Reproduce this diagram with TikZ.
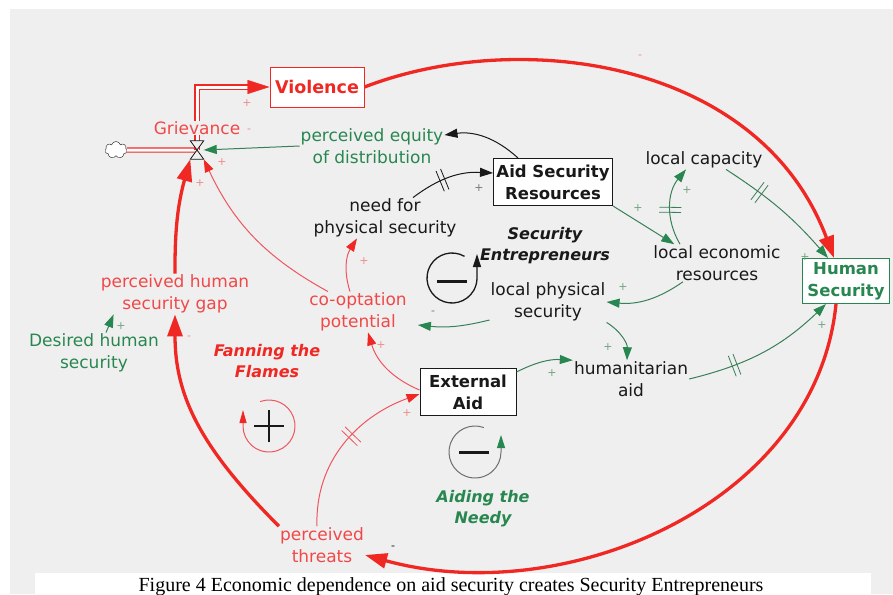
\documentclass[tikz,border=0pt]{standalone}
\usepackage{fontspec}
\setmainfont{DejaVu Sans}
\newfontfamily\capfont{Liberation Serif}
\usetikzlibrary{arrows.meta,shapes.symbols,decorations.markings}

\definecolor{bggray}{RGB}{240,239,239}
\definecolor{vred}{RGB}{240,40,35}
\definecolor{tred}{RGB}{240,72,72}
\definecolor{lred}{RGB}{238,85,95}
\definecolor{vgreen}{RGB}{40,135,80}
\definecolor{lgreen}{RGB}{55,128,88}
\definecolor{tblack}{RGB}{25,25,25}
\definecolor{loopgray}{RGB}{110,110,110}
\definecolor{signred}{RGB}{240,140,140}
\definecolor{signgreen}{RGB}{110,165,130}
\definecolor{signgray}{RGB}{120,120,120}

\begin{document}
\begin{tikzpicture}[x=1pt,y=1pt,
    lbl/.style={align=center,text=tblack,font=\fontsize{17}{22}\selectfont,inner sep=1pt},
    box/.style={draw=tblack,line width=1pt,fill=white,text=tblack,align=center,inner sep=2pt,font=\fontsize{16.5}{22}\selectfont\bfseries},
    loopname/.style={align=center,text=tblack,font=\fontsize{16}{21}\selectfont\bfseries\itshape},
    sign/.style={font=\fontsize{11}{11}\selectfont,inner sep=0pt},
    bigarrow/.style={color=vred,line width=3.3pt,-{Triangle[length=22pt,width=15pt]}},
    redarrow/.style={color=lred,line width=1pt,-{Triangle[length=13pt,width=9pt,color=vred]}},
    greenarrow/.style={color=lgreen,line width=1pt,-{Triangle[length=13pt,width=9pt,color=vgreen]}},
    blackarrow/.style={color=tblack,line width=1pt,-{Triangle[length=13pt,width=9pt]}},
    delaymark/.style={postaction={decorate,decoration={markings,mark=at position #1 with {\draw[-,line width=0.8pt] (-2.5pt,-11pt) -- (-2.5pt,11pt) (2.5pt,-11pt) -- (2.5pt,11pt);}}}},
    pipe/.style={color=vred,double=white,double distance=3pt,line width=1.1pt}]
    \useasboundingbox (0,0) rectangle (893,-594);
    \fill[white] (0,0) rectangle (893,-594);
    \fill[bggray] (10,-9) rectangle (893,-594);
    \fill[white] (35,-573) rectangle (871,-594);

    \node[box,draw=vred,text=vred,font=\fontsize{17.5}{22}\selectfont\bfseries,minimum width=94pt,minimum height=40pt] (viol) at (317,-87) {Violence};
    \node[draw=tblack,cloud,cloud puffs=7,minimum width=22pt,minimum height=17pt,fill=white,inner sep=0pt] (src) at (116,-150) {};
    \node[minimum width=13pt,minimum height=18pt,inner sep=0pt] (valve) at (197,-150) {};

    \draw[pipe] (src.east) -- (valve.center);
    \draw[pipe,shorten >=20pt] (valve.center) |- (viol.west);
    \draw[vred,-{Triangle[length=22pt,width=14pt]}] ([xshift=-22pt]viol.west) -- (viol.west);
    \filldraw[fill=bggray,draw=tblack,line width=0.8pt] (valve.north west) -- (valve.north east) -- (valve.south west) -- (valve.south east) -- cycle;

    \node[lbl,text=tred,fill=bggray,inner sep=0pt] (griev) at (197,-128) {Grievance};
    \node[lbl,text=vgreen] (equity) at (372,-146) {perceived equity\\of distribution};
    \node[box,minimum width=119pt,minimum height=47pt] (asr) at (553,-182) {Aid Security\\Resources};
    \node[lbl] (need) at (385,-218) {need for\\physical security};
    \node[loopname] (secent) at (545,-246) {Security\\Entrepreneurs};
    \node[lbl] (cap) at (704,-160) {local capacity};
    \node[lbl] (ler) at (717,-263) {local economic\\resources};
    \node[box,draw=vgreen,text=vgreen,minimum width=87pt,minimum height=45pt] (hs) at (846,-281) {Human\\Security};
    \node[lbl] (lps) at (548,-302) {local physical\\security};
    \node[lbl,text=tred] (coopt) at (358,-312) {co-optation\\potential};
    \node[lbl,text=tred] (gap) at (175,-294) {perceived human\\security gap};
    \node[lbl,text=vgreen] (desired) at (94,-353) {Desired human\\security};
    \node[loopname,text=vred] (fan) at (267,-361) {Fanning the\\Flames};
    \node[box,minimum width=96pt,minimum height=47pt] (ext) at (468,-392) {External\\Aid};
    \node[lbl] (hum) at (631,-379) {humanitarian\\aid};
    \node[loopname,text=vgreen] (aiding) at (483,-509) {Aiding the\\Needy};
    \node[lbl,text=tred] (threats) at (322,-545) {perceived\\threats};
    \node[font=\capfont\fontsize{20}{21}\selectfont,anchor=base,inner sep=0pt] (caption) at (451,-591) {Figure 4 Economic dependence on aid security creates Security Entrepreneurs};

    \draw[bigarrow] (viol.east) .. controls +(156,60) and +(-74,198) .. ([xshift=-12pt]hs.north);
    \draw[bigarrow] ([xshift=-10pt]hs.south) .. controls +(-20,-200) and +(200,-55) .. ([yshift=-10pt]threats.east);
    \draw[bigarrow] (threats.north west) .. controls +(-80,80) and +(0,-80) .. (gap.south);
    \draw[bigarrow] (gap.north) to[bend left=8] (valve.south west);

    \draw[redarrow] ([xshift=-30pt]coopt.north) to[bend left=18] (valve.south east);
    \draw[redarrow] ([xshift=-8pt]coopt.north) to[bend left=25] ([xshift=-28pt]need.south);
    \draw[redarrow] ([yshift=2pt]ext.west) to[bend left=25] ([xshift=10pt]coopt.south);
    \draw[redarrow,delaymark=0.55] ([xshift=-5pt]threats.north) to[out=92,in=200] ([yshift=-2pt]ext.west);

    \draw[greenarrow] (equity.west) -- (valve.east);
    \draw[blackarrow] ([xshift=-35pt]asr.north) to[bend right=25] ([yshift=11pt]equity.east);
    \draw[blackarrow,delaymark=0.4] ([xshift=28pt]need.north) to[bend left=20] ([yshift=9pt]asr.west);
    \draw[greenarrow] (asr.south east) -- ([xshift=22pt]ler.north west);
    \draw[greenarrow,delaymark=0.45] ([xshift=-37pt]ler.north) to[bend left=35] ([xshift=-18pt]cap.south);
    \draw[greenarrow,delaymark=0.3] ([xshift=22pt]cap.south) to[bend left=8] ([xshift=-18pt]hs.north);
    \draw[greenarrow] ([xshift=-34pt]ler.south) to[bend left=20] (lps.east);
    \draw[greenarrow] ([yshift=-18pt]lps.west) to[bend left=10] ([xshift=10pt,yshift=-13pt]coopt.east);
    \draw[greenarrow] (lps.south east) to[bend left=30] ([xshift=-4pt]hum.north);
    \draw[greenarrow] ([yshift=-4pt]ext.north east) to[bend left=15] (hum.north west);
    \draw[greenarrow,delaymark=0.3] (hum.east) to[bend right=15] ([xshift=-20pt]hs.south);
    \draw[greenarrow] ([xshift=12pt]desired.north) -- ([xshift=14pt]gap.south west);

    \coordinate (loopse) at (452,-278);
    \draw[tblack,line width=1.3pt,-{Triangle[length=13pt,width=8pt]}] ([shift={(60:25pt)}]loopse) arc[start angle=60,end angle=360,radius=25pt] -- ++(0,24pt);
    \draw[tblack,line width=3pt] ([xshift=-15pt,yshift=-3pt]loopse) -- ([xshift=15pt,yshift=-3pt]loopse);
    \coordinate (loopff) at (269,-426);
    \draw[lred,line width=1pt,-{Triangle[length=13pt,width=7pt,color=vred]}] ([shift={(110:26pt)}]loopff) arc[start angle=110,end angle=-180,radius=26pt] -- ++(0,16pt);
    \draw[tblack,line width=2.2pt] ([xshift=-15pt]loopff) -- ([xshift=15pt]loopff) ([yshift=-16pt]loopff) -- ([yshift=16pt]loopff);
    \coordinate (loopan) at (475,-452);
    \draw[loopgray,line width=1pt,-{Triangle[length=13pt,width=8pt,color=vgreen]}] ([shift={(70:26pt)}]loopan) arc[start angle=70,end angle=360,radius=26pt] -- ++(0,17pt);
    \draw[tblack,line width=3pt] ([xshift=-16pt]loopan) -- ([xshift=14pt]loopan);

    \node[sign,text=signred] (s1) at (247,-103) {+};
    \node[sign,text=signred] (s2) at (249,-131) {-};
    \node[sign,text=signred] (s3) at (222,-162) {+};
    \node[sign,text=signred] (s4) at (200,-183) {+};
    \node[sign,text=signgray] (s5) at (479,-188) {+};
    \node[sign,text=signgreen] (s6) at (638,-208) {+};
    \node[sign,text=signgreen] (s7) at (687,-190) {+};
    \node[sign,text=signred] (s8) at (364,-261) {+};
    \node[sign,text=signgreen] (s9) at (623,-287) {+};
    \node[sign,text=signgray] (s10) at (433,-313) {-};
    \node[sign,text=signred] (s11) at (381,-345) {+};
    \node[sign,text=signgreen] (s12) at (608,-347) {+};
    \node[sign,text=signgreen] (s13) at (552,-373) {+};
    \node[sign,text=signred] (s14) at (407,-413) {+};
    \node[sign,text=signgreen] (s15) at (822,-325) {+};
    \node[sign,text=signgreen] (s16) at (121,-326) {+};
    \node[sign,text=signred] (s17) at (189,-338) {-};
    \node[sign,text=signred] (s18) at (640,-57) {-};
    \node[sign,text=tblack] (s19) at (393,-548) {-};
    \node[sign,text=signgreen] (s20) at (805,-257) {+};
\end{tikzpicture}
\end{document}
